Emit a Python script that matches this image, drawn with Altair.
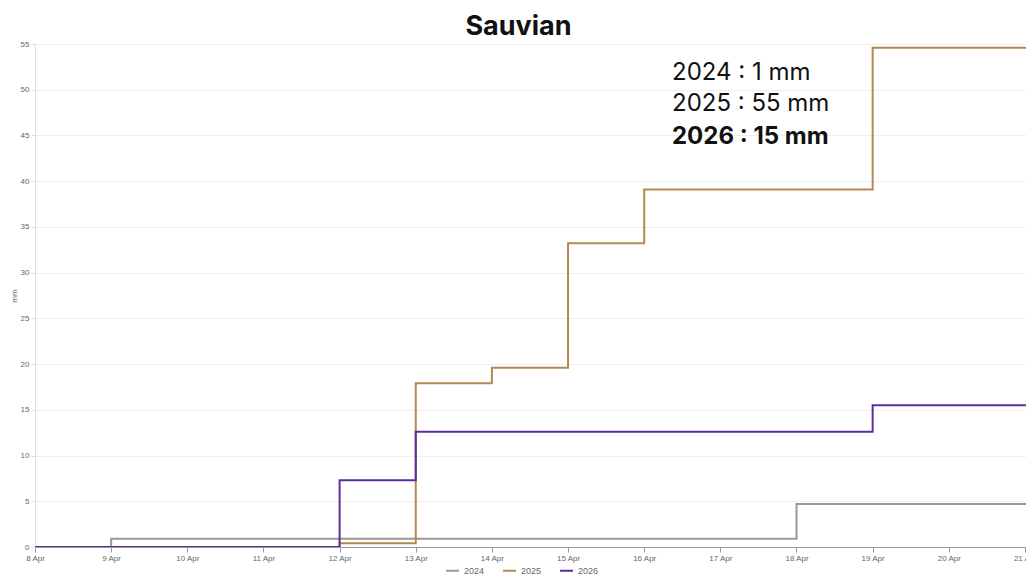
import altair as alt
import pandas as pd

days = list(range(8, 23))  # 8 Apr .. 22 Apr (last one only closes the final step)
v2024 = [0, 0.9, 0.9, 0.9, 0.9, 0.9, 0.9, 0.9, 0.9, 0.9, 4.7, 4.7, 4.7, 4.7, 4.7]
v2025 = [0, 0, 0, 0, 0.4, 17.9, 19.6, 33.2, 39.1, 39.1, 39.1, 54.6, 54.6, 54.6, 54.6]
v2026 = [0, 0, 0, 0, 7.3, 12.6, 12.6, 12.6, 12.6, 12.6, 12.6, 15.5, 15.5, 15.5, 15.5]
series = ["2024", "2025", "2026"]
colors = ["#999999", "#b5884f", "#5b2d9e"]
notes = ["2024 : 1 mm", "2025 : 55 mm", "2026 : 15 mm"]

rows = []
for name, vals in zip(series, [v2024, v2025, v2026]):
    for d, v in zip(days, vals):
        rows.append({"date": f"2026-04-{d:02d}", "year": name, "mm": v})
df = pd.DataFrame(rows)

W, H = 991, 503
x_dom = [alt.DateTime(year=2026, month=4, date=8, utc=True),
         alt.DateTime(year=2026, month=4, date=21, minutes=20, utc=True)]
tick_vals = [alt.DateTime(year=2026, month=4, date=d, utc=True) for d in range(8, 22)]

AX_FONT = "Liberation Sans"

lines = alt.Chart(df).mark_line(interpolate="step-after", strokeWidth=2, clip=True).encode(
    x=alt.X("date:T", scale=alt.Scale(type="utc", domain=x_dom),
            axis=alt.Axis(values=tick_vals, labelExpr="utcFormat(datum.value, '%-d %b')",
                          title=None, grid=False, domainColor="#999999", tickColor="#999999",
                          tickSize=5, labelFontSize=8, labelColor="#666666", labelFont=AX_FONT,
                          labelPadding=2, labelFlush=False, labelOverlap=False)),
    y=alt.Y("mm:Q", scale=alt.Scale(domain=[0, 55], nice=False),
            axis=alt.Axis(values=list(range(0, 56, 5)), title="mm", titleFontSize=8,
                          titleFont=AX_FONT, titleFontWeight="normal", titleColor="#666666",
                          titlePadding=2, labelFontSize=8, labelColor="#666666", labelFont=AX_FONT,
                          gridColor="#eeeeee", domain=False, tickColor="#dddddd", tickSize=4,
                          labelPadding=2)),
    color=alt.Color("year:N", scale=alt.Scale(domain=series, range=colors),
                    legend=alt.Legend(title=None, orient="none", direction="horizontal",
                                      legendX=410, legendY=519, symbolType="stroke",
                                      symbolStrokeWidth=2, symbolSize=169, labelFontSize=9,
                                      labelColor="#666666", labelFont=AX_FONT, columnPadding=14,
                                      labelOffset=4, symbolOffset=0, padding=0)),
)

note_layers = []
for i, (txt, yy) in enumerate(zip(notes, [29, 60, 93])):
    note_layers.append(
        alt.Chart(pd.DataFrame({"txt": [txt]})).mark_text(
            align="left", baseline="middle", fontSize=24, font="Inter",
            fontWeight="bold" if i == 2 else "normal", color="#111111"
        ).encode(x=alt.value(637), y=alt.value(yy), text="txt:N")
    )

chart = alt.layer(lines, *note_layers).properties(
    width=W, height=H,
    autosize=alt.AutoSizeParams(type="none"),
    padding={"left": 27, "top": 36, "right": 0, "bottom": 32},
    title=alt.TitleParams("Sauvian", fontSize=27, fontWeight="bold", font="Inter",
                          color="#111111", anchor="middle", dx=-12, offset=-1),
).configure_view(stroke=None).configure(background="white")

chart.save("out.html", embed_options={"renderer": "svg", "actions": False})
